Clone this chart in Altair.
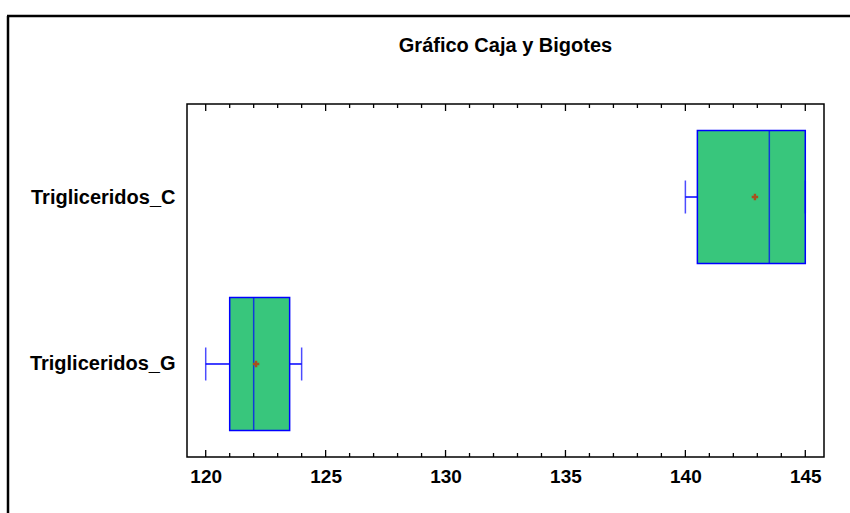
import altair as alt
import pandas as pd

title_text = "Gráfico Caja y Bigotes"
categories = ["Trigliceridos_C", "Trigliceridos_G"]
mins = [140.0, 120.0]
q1s = [140.5, 121.0]
medians = [143.5, 122.0]
q3s = [145.0, 123.5]
maxs = [145.0, 124.0]
means = [142.9, 122.1]
tick_labels = [120, 125, 130, 135, 140, 145]
tick_values = list(range(120, 146))

FONT = "Liberation Sans"
W, H = 637, 353
BOX_FILL = "#38C67C"
BLUE = "#0000FF"

df = pd.DataFrame({"cat": categories, "lo": mins, "q1": q1s, "med": medians,
                   "q3": q3s, "hi": maxs, "mean": means})
ticks_df = pd.DataFrame({"v": tick_values})
ticks_df["major"] = ticks_df["v"] % 5 == 0
one = pd.DataFrame({"a": [0]})

xscale = alt.Scale(domain=[119.22, 145.78], nice=False, zero=False)
yscale = alt.Scale(type="point", domain=categories, padding=0.557)

xaxis = alt.Axis(title=None, values=tick_labels, ticks=False, domain=False,
                 grid=False, labelFont=FONT, labelFontSize=19,
                 labelFontWeight="bold", labelColor="black", labelPadding=10,
                 tickSize=0)
yaxis = alt.Axis(title=None, ticks=False, domain=False, grid=False, labelFont=FONT,
                 labelFontSize=20, labelFontWeight="bold", labelColor="black",
                 labelPadding=12, labelLimit=300, tickSize=0)


def X(field):
    return alt.X(field, scale=xscale, axis=xaxis, title=None)


Y = alt.Y("cat:N", scale=yscale, sort=categories, axis=yaxis, title=None)

base = alt.Chart(df)

whisk_lo = base.mark_rule(color=BLUE, strokeWidth=1.5).encode(x=X("lo:Q"), x2="q1:Q", y=Y)
whisk_hi = base.mark_rule(color=BLUE, strokeWidth=1.5).encode(x=X("q3:Q"), x2="hi:Q", y=Y)
cap_lo = base.mark_tick(color=BLUE, size=33, thickness=1.5, orient="vertical").encode(
    x=X("lo:Q"), y=Y)
cap_hi = base.mark_tick(color=BLUE, size=33, thickness=1.5, orient="vertical").encode(
    x=X("hi:Q"), y=Y)
box = base.mark_bar(fill=BOX_FILL, stroke=BLUE, strokeWidth=1.5, size=133).encode(
    x=X("q1:Q"), x2="q3:Q", y=Y)
median = base.mark_tick(color=BLUE, size=133, thickness=1.5, orient="vertical").encode(
    x=X("med:Q"), y=Y)
mean = base.mark_point(shape="M-1,0H1M0,-1V1", filled=False, stroke="#A8501E",
                       strokeWidth=2.4, size=42, opacity=1).encode(x=X("mean:Q"), y=Y)

tk = alt.Chart(ticks_df)


def tick_layer(cond, y0, y1):
    return tk.transform_filter(cond).mark_rule(color="black", strokeWidth=1.3).encode(
        x=X("v:Q"), y=alt.value(y0), y2=alt.value(y1))


ticks = [
    tick_layer("datum.major", 0, 7),
    tick_layer("!datum.major", 0, 4),
    tick_layer("datum.major", H, H - 7),
    tick_layer("!datum.major", H, H - 4),
]

oc = alt.Chart(one)
frame_left = oc.mark_rule(color="black", strokeWidth=2.5).encode(
    x=alt.value(-179), y=alt.value(-88), y2=alt.value(H + 80))
frame_top = oc.mark_rule(color="black", strokeWidth=2.5).encode(
    x=alt.value(-180), x2=alt.value(W + 60), y=alt.value(-88))
title = oc.mark_text(font=FONT, fontSize=20, fontWeight="bold", color="black",
                     align="center", baseline="alphabetic").encode(
    x=alt.value(W / 2), y=alt.value(-52), text=alt.value(title_text))

chart = alt.layer(
    box, whisk_lo, whisk_hi, cap_lo, cap_hi, median, mean, *ticks,
    frame_left, frame_top, title
).properties(
    width=W, height=H,
    autosize=alt.AutoSizeParams(type="none"),
    padding={"left": 187, "top": 104, "right": 26, "bottom": 56},
    background="white",
).configure_view(stroke="black", strokeWidth=1.5)

chart.save("out.html", embed_options={"renderer": "svg", "actions": False})
